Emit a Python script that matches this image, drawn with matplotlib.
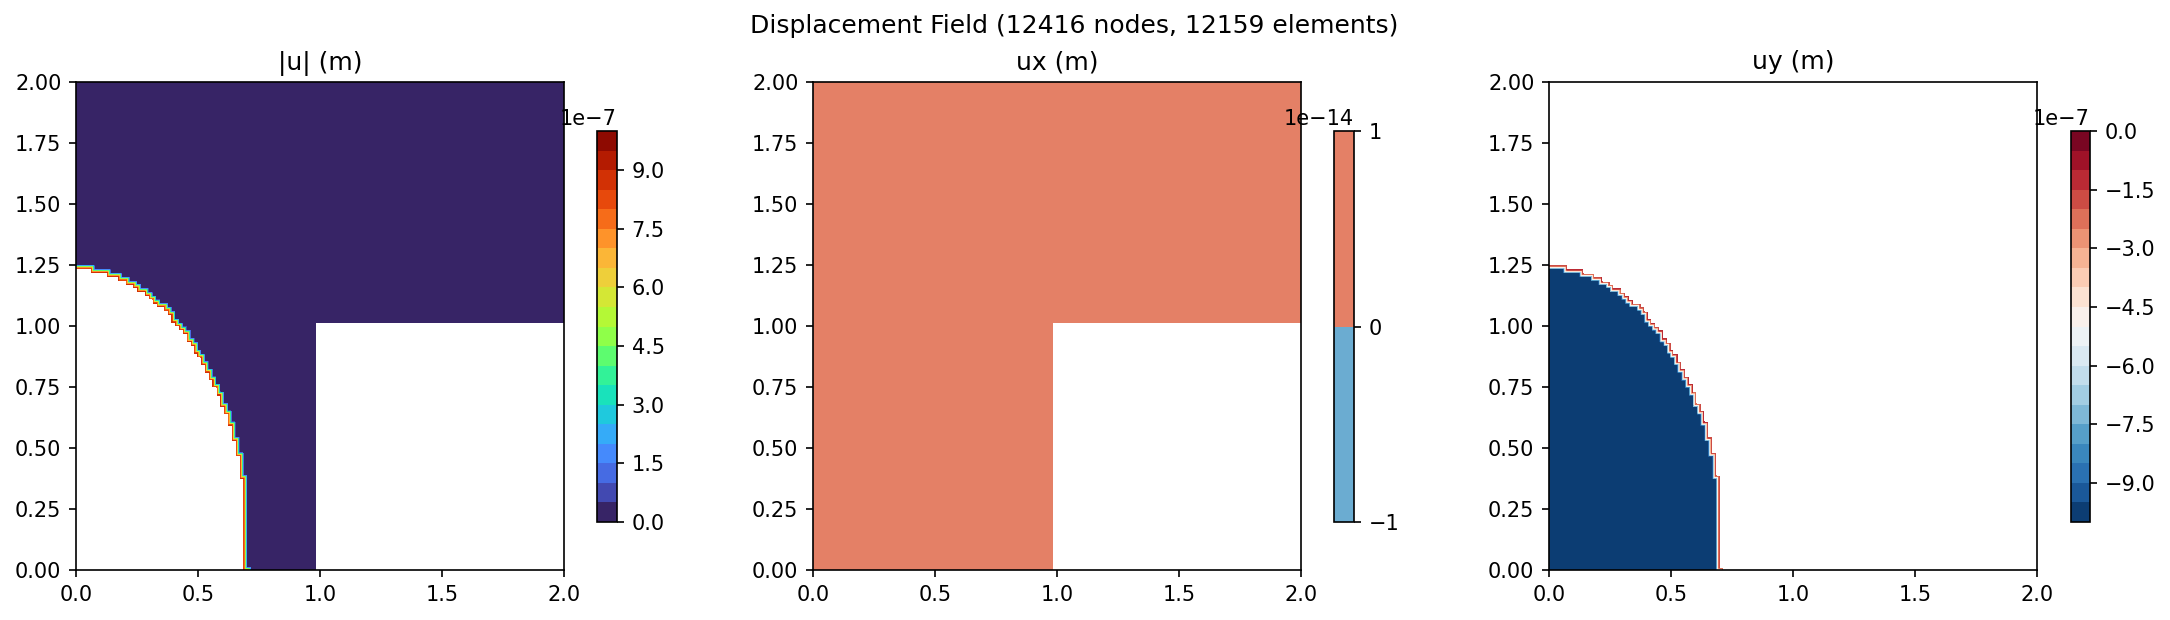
import numpy as np
import matplotlib
matplotlib.use("Agg")
import matplotlib.pyplot as plt

# Staircase edge of the contact region
# (each x holds from the previous y up to the y on the same position)
arc_y_top = [0.011, 0.388, 0.481, 0.544, 0.607, 0.653, 0.683, 0.730, 0.762, 0.792,
             0.824, 0.855, 0.885, 0.902, 0.933, 0.949, 0.982, 0.997, 1.012, 1.029,
             1.060, 1.077, 1.093, 1.107, 1.123, 1.138, 1.154, 1.171, 1.183, 1.200,
             1.216, 1.232, 1.249]
arc_x = [0.716, 0.700, 0.686, 0.669, 0.653, 0.637, 0.622, 0.605, 0.590, 0.574,
         0.559, 0.542, 0.527, 0.511, 0.499, 0.485, 0.469, 0.452, 0.437, 0.421,
         0.406, 0.391, 0.376, 0.344, 0.328, 0.313, 0.296, 0.265, 0.249, 0.219,
         0.187, 0.141, 0.075]
band_width = 0.015
band_cut = 0.12
notch_x = 0.984
notch_y = 1.013

umag_levels = np.linspace(0, 1e-6, 21)
ux_levels = [-1e-14, 0, 1e-14]
uy_levels = np.linspace(-1e-6, 0, 21)
ux_value = 1e-16
peak_disp = 1e-6

titles = ["|u| (m)", "ux (m)", "uy (m)"]
suptitle = "Displacement Field (12416 nodes, 12159 elements)"

W, H = 2170, 620
fig = plt.figure(figsize=(W / 150, H / 150), dpi=150)


def box(l, r, top, bot):
    return [l / W, 1 - bot / H, (r - l) / W, (bot - top) / H]


ax_px = [(76, 564), (813, 1301), (1549, 2037)]
cb_px = [(597, 617), (1334, 1354), (2071, 2090)]

xs = np.linspace(0, 2, 1025)
ys = np.linspace(0, 2, 1025)
X, Y = np.meshgrid(xs, ys)

edge_y = np.array(arc_y_top)
edge_x = np.array(arc_x + [-1.0])


def stair(y):
    return edge_x[np.searchsorted(edge_y, y)]


# fraction of the way through the band, 0 on the outer edge, 1 deep inside
offsets = np.linspace(0, band_width, 41)
frac = np.mean([X + t < stair(Y + t) for t in offsets], axis=0)
notch = (X > notch_x) & (Y < notch_y)

umag = np.ma.masked_where((frac >= 1 - band_cut) | notch, peak_disp * frac * 0.999)
ux = np.ma.masked_where(notch, np.full_like(X, ux_value))
uy = np.ma.masked_where(frac <= band_cut, -peak_disp * frac * 0.999)

fields = [(umag, umag_levels, "turbo"), (ux, ux_levels, "RdBu_r"), (uy, uy_levels, "RdBu_r")]

for (z, lev, cmap), (l, r), (cl, cr), title in zip(fields, ax_px, cb_px, titles):
    ax = fig.add_axes(box(l, r, 82, 570))
    cs = ax.contourf(X, Y, z, levels=lev, cmap=cmap)
    ax.set_xlim(0, 2)
    ax.set_ylim(0, 2)
    ax.set_title(title)
    cax = fig.add_axes(box(cl, cr, 131, 522))
    fig.colorbar(cs, cax=cax)

fig.text(1074 / W, 1 - 26.5 / H, suptitle, ha="center", va="center", fontsize=12)
fig.savefig("out.png", dpi=150)
